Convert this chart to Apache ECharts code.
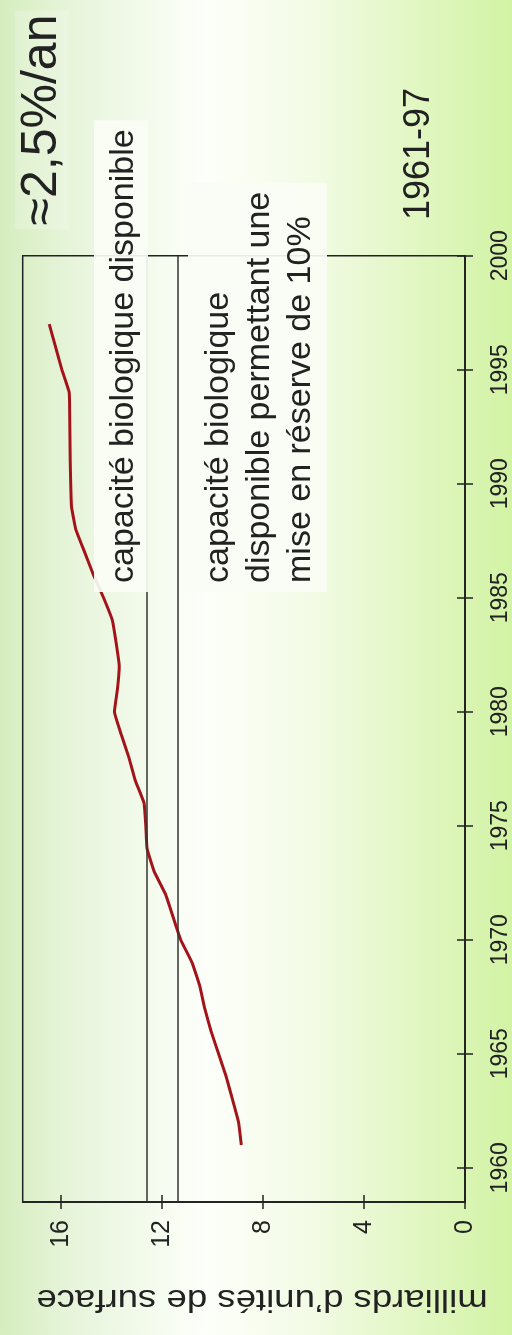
<!DOCTYPE html>
<html>
<head>
<meta charset="utf-8">
<script src="https://cdn.jsdelivr.net/npm/echarts@6/dist/echarts.min.js"></script>
<style>
  html, body { margin: 0; padding: 0; }
  #chart { width: 512px; height: 1335px; }
</style>
</head>
<body>
<div id="chart"></div>
<script>
// empreinte écologique mondiale, 1961-97 (milliards d'unités de surface)
const years = [1961, 1962, 1963, 1964, 1965, 1966, 1967, 1968, 1969, 1970,
  1971, 1972, 1973, 1974, 1975, 1976, 1977, 1978, 1979, 1980,
  1981, 1982, 1983, 1984, 1985, 1986, 1987, 1988, 1989, 1990,
  1991, 1992, 1993, 1994, 1995, 1996, 1997];
const surface = [8.85, 8.96, 9.2, 9.45, 9.75, 10.05, 10.3, 10.5, 10.8, 11.25,
  11.55, 11.85, 12.3, 12.58, 12.63, 12.7, 13.05, 13.3, 13.6, 13.87,
  13.75, 13.68, 13.8, 13.95, 14.3, 14.7, 15.05, 15.4, 15.57, 15.6,
  15.62, 15.63, 15.64, 15.66, 15.95, 16.2, 16.45];
const yearTicks = [1960, 1965, 1970, 1975, 1980, 1985, 1990, 1995, 2000];
const valueTicks = [0, 4, 8, 12, 16];
const capacite = 12.6;
const capaciteReserve = 11.35;

const font = "'Liberation Sans', Arial, sans-serif";
const ink = '#222';

let myChart = echarts.init(document.getElementById('chart'));

const yearAxisBase = {
  type: 'value',
  position: 'right',
  min: 1958.5,
  max: 2000,
  splitLine: { show: false },
  axisLine: { lineStyle: { color: ink, width: 1.5 } }
};
const valueAxisBase = {
  type: 'value',
  position: 'bottom',
  min: 0,
  max: 17.5,
  inverse: true,
  splitLine: { show: false },
  axisLine: { lineStyle: { color: ink, width: 1.5 } }
};

let option = {
  backgroundColor: new echarts.graphic.LinearGradient(0, 0, 1, 0, [
    { offset: 0, color: '#d5edbf' },
    { offset: 0.15, color: '#e8f5dc' },
    { offset: 0.4, color: '#fdfffa' },
    { offset: 0.6, color: '#f3fbe6' },
    { offset: 1, color: '#d2f3a4' }
  ]),
  animation: false,
  grid: {
    left: 22.7, right: 44, top: 255.7, bottom: 133,
    show: true, borderColor: ink, borderWidth: 1.5,
    backgroundColor: 'transparent'
  },
  xAxis: [
    Object.assign({}, valueAxisBase, {
      axisTick: { show: true, inside: false, length: 7, customValues: valueTicks, lineStyle: { color: ink, width: 1.5 } },
      axisLabel: {
        customValues: valueTicks, rotate: 90, margin: 18,
        fontSize: 25, fontFamily: font, color: ink,
        formatter: (v) => String(v)
      }
    }),
    Object.assign({}, valueAxisBase, {
      axisTick: { show: true, inside: true, length: 7, customValues: valueTicks, lineStyle: { color: ink, width: 1.5 } },
      axisLabel: { show: false }
    })
  ],
  yAxis: [
    Object.assign({}, yearAxisBase, {
      axisTick: { show: true, inside: false, length: 8, customValues: yearTicks, lineStyle: { color: ink, width: 1.5 } },
      axisLabel: {
        customValues: yearTicks, rotate: 90, margin: 24,
        fontSize: 23, fontFamily: font, color: ink,
        formatter: (v) => String(v)
      }
    }),
    Object.assign({}, yearAxisBase, {
      axisTick: { show: true, inside: true, length: 8, customValues: yearTicks, lineStyle: { color: ink, width: 1.5 } },
      axisLabel: { show: false }
    })
  ],
  series: [
    {
      name: 'empreinte',
      type: 'line',
      xAxisIndex: 0,
      yAxisIndex: 0,
      showSymbol: false,
      smooth: 0.1,
      data: years.map((y, i) => [surface[i], y]),
      lineStyle: { color: '#a3141a', width: 3 },
      markLine: {
        silent: true,
        symbol: 'none',
        label: { show: false },
        lineStyle: { color: '#333', width: 1.5, type: 'solid' },
        data: [{ xAxis: capacite }, { xAxis: capaciteReserve }]
      }
    }
  ],
  graphic: [
    {
      type: 'text', x: 42, y: 120, rotation: Math.PI / 2, z: 100,
      style: {
        text: '≈2,5%/an', font: '50px ' + font, fill: ink,
        textAlign: 'center', textVerticalAlign: 'middle',
        backgroundColor: 'rgba(255,255,255,0.2)', padding: [2, 4]
      }
    },
    {
      type: 'text', x: 419, y: 154, rotation: Math.PI / 2, z: 100,
      style: {
        text: '1961-97', font: '36px ' + font, fill: ink,
        textAlign: 'center', textVerticalAlign: 'middle'
      }
    },
    {
      type: 'text', x: 94, y: 592, rotation: Math.PI / 2, z: 100,
      style: {
        text: 'capacité biologique disponible', font: '34px ' + font, fill: ink,
        lineHeight: 40,
        textAlign: 'left', textVerticalAlign: 'top',
        backgroundColor: 'rgba(250,253,245,0.92)', padding: [10, 9, 4, 9]
      }
    },
    {
      type: 'text', x: 188, y: 592, rotation: Math.PI / 2, z: 100,
      style: {
        text: 'capacité biologique\ndisponible permettant une\nmise en réserve de 10%',
        font: '34px ' + font, fill: ink, lineHeight: 41,
        textAlign: 'left', textVerticalAlign: 'top',
        backgroundColor: 'rgba(250,253,245,0.92)', padding: [10, 9, 6, 9]
      }
    },
    {
      type: 'text', x: 262, y: 1299, rotation: Math.PI, scaleX: 1.18, z: 100,
      style: {
        text: 'milliards d’unités de surface', font: '31px ' + font, fill: ink,
        textAlign: 'center', textVerticalAlign: 'middle'
      }
    }
  ]
};

myChart.setOption(option);
</script>
</body>
</html>
